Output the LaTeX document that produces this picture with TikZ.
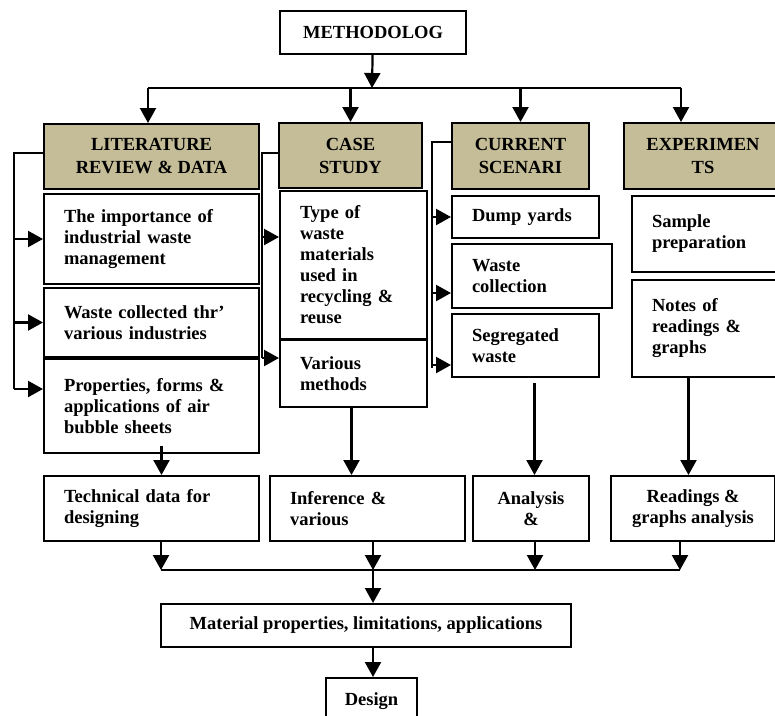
\documentclass[tikz,border=0pt]{standalone}
\usepackage{fontspec}
\setmainfont{Liberation Serif}
\usetikzlibrary{arrows.meta, positioning}

\definecolor{headtan}{HTML}{C4BD97}

\tikzset{
  box/.style={draw, line width=2pt, rectangle, anchor=north west,
    inner xsep=20pt, inner ysep=2pt, align=left,
    font=\bfseries\fontsize{18.5}{21}\selectfont},
  ctrbox/.style={box, align=center, inner xsep=2pt},
  headbox/.style={ctrbox, fill=headtan, font=\bfseries\fontsize{18.5}{23}\selectfont},
  arr/.style={-{Triangle[width=16pt,length=15pt]}, line width=2.2pt},
  wire/.style={line width=2.2pt}
}

\begin{document}
\begin{tikzpicture}[x=1pt, y=-1pt]
\useasboundingbox (0,0) rectangle (775,715);
\clip (0,0) rectangle (775,715);

% top
\node (meth) [ctrbox, minimum width=186pt, minimum height=43pt] at (279,10) {METHODOLOG};

% column heads
\node (lith) [headbox, minimum width=215pt, minimum height=65pt] at (43,123) {LITERATURE\\REVIEW \& DATA};
\node (caseh) [headbox, minimum width=143pt, minimum height=65pt] at (278,122) {CASE\\STUDY};
\node (curh) [headbox, minimum width=137pt, minimum height=66pt] at (451,122) {CURRENT\\SCENARI};
\node (exph) [headbox, minimum width=158pt, minimum height=66pt] at (623,122) {EXPERIMEN\\TS};

% literature review
\node (lit1) [box, minimum width=215pt, minimum height=90pt, text width=175pt] at (43,193) {The importance of\\industrial waste\\management};
\node (lit2) [box, minimum width=215pt, minimum height=69pt, text width=175pt] at (43,287) {Waste collected thr'\\various industries};
\node (lit3) [box, minimum width=215pt, minimum height=94pt, text width=175pt] at (43,358) {Properties, forms \&\\applications of air\\bubble sheets};

% case study
\node (case1) [box, minimum width=147pt, minimum height=148pt, text width=107pt] at (279,190) {Type of\\waste\\materials\\used in\\recycling \&\\reuse};
\node (case2) [box, minimum width=147pt, minimum height=67pt, text width=107pt] at (279,339) {Various\\methods};

% current scenario
\node (cur1) [box, minimum width=147pt, minimum height=42pt, text width=107pt] at (451,195) {Dump yards};
\node (cur2) [box, minimum width=160pt, minimum height=64pt, text width=120pt] at (451,243) {Waste\\collection};
\node (cur3) [box, minimum width=147pt, minimum height=63pt, text width=107pt] at (451,313) {Segregated\\waste};

% experiments
\node (exp1) [box, minimum width=147pt, minimum height=76pt, text width=107pt] at (631,195) {Sample\\preparation};
\node (exp2) [box, minimum width=147pt, minimum height=97pt, text width=107pt] at (631,279) {Notes of\\readings \&\\graphs};

% results
\node (tech) [box, minimum width=215pt, minimum height=65pt, text width=175pt] at (43,475) {Technical data for\\designing};
\node (infer) [box, minimum width=195pt, minimum height=65pt, text width=155pt] at (269,475) {Inference \&\\various};
\node (anal) [ctrbox, minimum width=116pt, minimum height=65pt] at (472,475) {Analysis\\\&};
\node (read) [ctrbox, minimum width=164pt, minimum height=65pt] at (610,475) {Readings \&\\graphs analysis};

\node (mat) [ctrbox, minimum width=410pt, minimum height=43pt] at (160,603) {Material properties, limitations, applications};
\node (design) [ctrbox, minimum width=91pt, minimum height=46pt] at (325,677) {Design};

% split from the top
\coordinate (split) at (372,88);
\coordinate (b1) at (148,88);
\coordinate (b4) at (681,88);
\draw [arr] (meth) -- (split);
\draw [wire] (b1) -- (b4);
\draw [arr] (b1) -- (b1 |- lith.north);
\draw [arr] (split -| caseh.north) -- (caseh.north);
\draw [arr] (split -| curh.north) -- (curh.north);
\draw [arr] (b4) -- (b4 |- exph.north);

% brackets
\coordinate (lbtop) at (14,153);
\coordinate (lbbot) at (14,389);
\draw [wire] (lbtop -| lith.west) -- (lbtop) -- (lbbot);
\draw [arr] (lbtop |- lit1.west) -- (lit1.west);
\draw [arr] (lbtop |- lit2.west) -- (lit2.west);
\draw [arr] (lbbot) -- (lbbot -| lit3.west);

\coordinate (cbtop) at (262,153);
\coordinate (cbmid) at (262,237);
\coordinate (cbbot) at (262,358);
\draw [wire] (cbtop -| caseh.west) -- (cbtop) -- (cbbot);
\draw [arr] (cbmid) -- (cbmid -| case1.west);
\draw [arr] (cbbot) -- (cbbot -| case2.west);

\coordinate (sbtop) at (432,142);
\coordinate (sbmid) at (432,293);
\coordinate (sblow) at (432,365);
\coordinate (sbbot) at (432,368);
\draw [wire] (sbtop -| curh.west) -- (sbtop) -- (sbbot);
\draw [arr] (sbtop |- cur1.west) -- (cur1.west);
\draw [arr] (sbmid) -- (sbmid -| cur2.west);
\draw [arr] (sblow) -- (sblow -| cur3.west);

% down to the results
\draw [arr] ([xshift=10pt,yshift=8pt]lit3.south) -- ([xshift=10pt]tech.north);
\draw [arr] ([xshift=-2pt]case2.south) -- ([xshift=-2pt]case2.south |- infer.north);
\draw [arr] ([xshift=9pt,yshift=-5pt]cur3.south) -- ([xshift=9pt]cur3.south |- anal.north);
\draw [arr] ([xshift=-17pt]exp2.south) -- ([xshift=-17pt]exp2.south |- read.north);

% join
\coordinate (m1) at (161,570);
\coordinate (join) at (373,570);
\coordinate (m4) at (680,570);
\draw [wire] (m1) -- (m4);
\draw [arr] (tech.south -| m1) -- (m1);
\draw [arr] (infer.south -| join) -- (join);
\draw [arr] ([xshift=4pt]anal.south) -- ([xshift=4pt]anal.south |- join);
\draw [arr] (read.south -| m4) -- (m4);
\draw [arr] (join) -- (join |- mat.north);
\draw [arr] (mat.south -| join) -- (join |- design.north);
\end{tikzpicture}
\end{document}
